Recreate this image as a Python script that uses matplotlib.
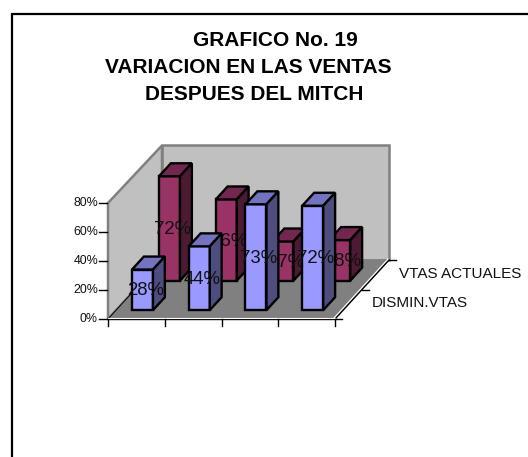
import matplotlib
matplotlib.use('Agg')
import matplotlib.pyplot as plt
from matplotlib.patches import Polygon

plt.rcParams['font.family']=['Liberation Sans','DejaVu Sans']

title_lines=['GRAFICO No. 19','VARIACION EN LAS VENTAS','DESPUES DEL MITCH']
categories=[1,2,3,4]
series_names=['DISMIN.VTAS','VTAS ACTUALES']
dismin=[28,44,73,72]
actuales=[72,56,27,28]
y_ticks=[0,20,40,60,80]

# oblique projection of the 3d chart, everything ends up in pixels
x0,y0=108,319
cat_w=56.75
dep_x,dep_y=27.0,-29.5
val_h=1.45

def proj(cat,dep,val):
    return (x0+cat*cat_w+dep*dep_x, y0+dep*dep_y-val*val_h)

def box(cat,dep,val,front,top,side):
    w=0.37
    d=0.44
    a=proj(cat,dep,0)
    b=proj(cat+w,dep,0)
    c=proj(cat+w,dep,val)
    e=proj(cat,dep,val)
    f=proj(cat,dep+d,val)
    g=proj(cat+w,dep+d,val)
    h=proj(cat+w,dep+d,0)
    for pts,col in [([a,b,c,e],front),([e,c,g,f],top),([b,h,g,c],side)]:
        ax.add_patch(Polygon(pts,closed=True,fc=col,ec='black',lw=1.7,joinstyle='miter',zorder=3))

fig=plt.figure(figsize=(5.28,4.57),dpi=100)
ax=fig.add_axes([0,0,1,1])
ax.set_xlim(0,528)
ax.set_ylim(457,0)
ax.axis('off')

# chart border, runs off the right and bottom
ax.plot([11.5,11.5,528],[457,13.5,13.5],color='black',lw=1.6,solid_joinstyle='miter')

for line,cx,cy in zip(title_lines,[275.5,248.5,254],[40,67.5,94.5]):
    ax.text(cx,cy,line,fontsize=15,fontweight='bold',ha='center',va='center')

top=y_ticks[-1]
wall_top=top-1
# walls and floor
ax.add_patch(Polygon([proj(0,2,0),proj(4,2,0),proj(4,2,wall_top),proj(0,2,wall_top)],fc='#C0C0C0',ec='#808080',lw=1.8))
ax.add_patch(Polygon([proj(0,0,0),proj(0,2,0),proj(0,2,wall_top),proj(0,0,top)],fc='#C0C0C0',ec='#808080',lw=1.8))
ax.add_patch(Polygon([proj(0,0,0),proj(4,0,0),proj(4,2,0),proj(0,2,0)],fc='#808080',ec='#808080',lw=0.8))

# axes lines and ticks
ax.plot(*zip(proj(0,0,0),proj(0,2,0)),color='black',lw=0.7)
ax.plot(*zip(proj(0,0,0),proj(4,0,0)),color='black',lw=1)
ax.plot(*zip(proj(4,0,0),proj(4,2,0)),color='black',lw=1)
ax.plot(*zip((x0,y0-1),(x0+4*cat_w,y0-1)),color='white',lw=0.8)
ax.plot(*zip((x0+4*cat_w-1,y0-1),(x0+4*cat_w+2*dep_x-1,y0+2*dep_y-1)),color='white',lw=0.8)
for v in y_ticks:
    px,py=proj(0,0,v)
    ax.plot([px-9,px-1],[py,py],color='black',lw=1)
    ax.text(px-10,py,'%d%%'%v,fontsize=8.9,ha='right',va='center',color='#111111')
for i in range(5):
    px,py=proj(i,0,0)
    ax.plot([px,px],[py,py+7],color='black',lw=1)
for d in range(3):
    px,py=proj(4,d,0)
    ax.plot([px,px+7],[py,py],color='black',lw=1)
ax.text(372,303,series_names[0],fontsize=11,ha='left',va='center',color='#111111')
ax.text(399,274,series_names[1],fontsize=11,ha='left',va='center',color='#111111')

# back series first, its labels get covered by the front bars
for i,v in zip(range(len(categories)),actuales):
    box(i+0.28,1.3,v,'#993366','#732650','#4D1A33')
    px,py=proj(i+0.28+0.185,1.3,v/2)
    ax.text(px+3,py+1,'%d%%'%v,fontsize=13.4,ha='center',va='center',color='#111111',zorder=3)
for i,v in zip(range(len(categories)),dismin):
    box(i+0.28,0.3,v,'#9999FF','#7373BF','#4D4D80')
    px,py=proj(i+0.28+0.185,0.3,v/2)
    ax.text(px+3,py+1,'%d%%'%v,fontsize=13.4,ha='center',va='center',color='#111111',zorder=3)

fig.savefig('out.png',dpi=100)
